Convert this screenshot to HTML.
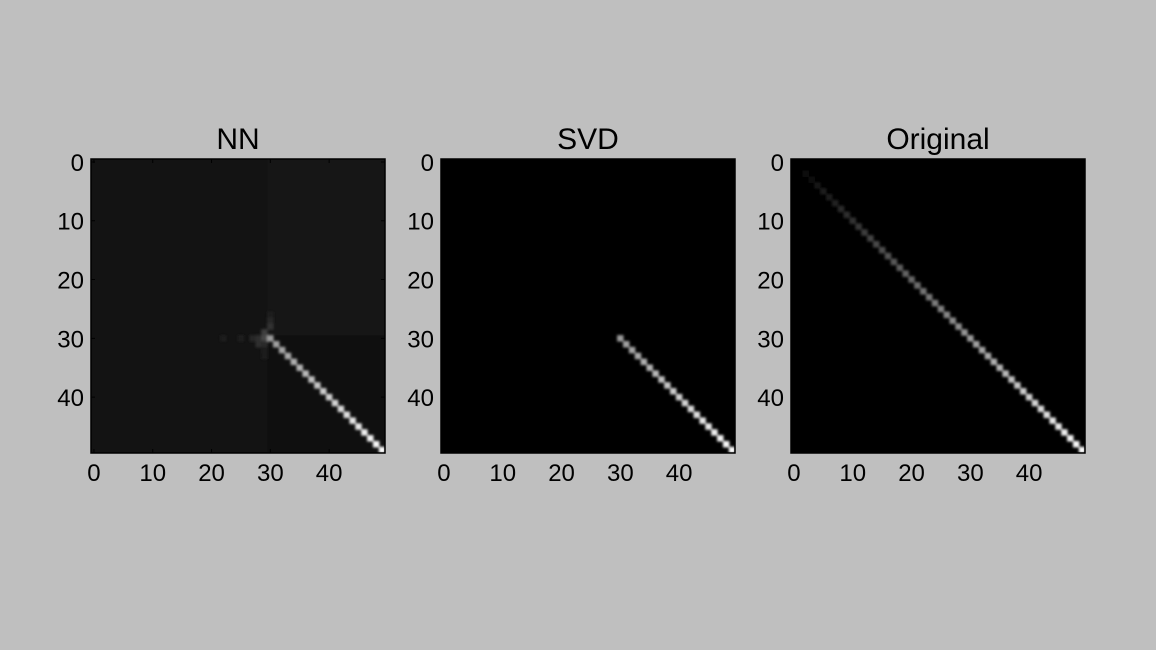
<!DOCTYPE html>
<html><head><meta charset="utf-8"><style>
html,body{margin:0;padding:0;background:#bfbfbf;}
svg{display:block;font-family:"Liberation Sans",Arial,sans-serif;}
</style></head><body>
<svg id="chart" width="1156" height="650" xmlns="http://www.w3.org/2000/svg">
<defs><filter id="soft" x="-5%" y="-5%" width="110%" height="110%"><feGaussianBlur stdDeviation="1.3"/></filter>
<clipPath id="c0"><rect x="91" y="159" width="294" height="294"/></clipPath>
<clipPath id="c1"><rect x="441" y="159" width="294" height="294"/></clipPath>
<clipPath id="c2"><rect x="791" y="159" width="294" height="294"/></clipPath>
</defs>
</svg>
<script>
// data
const N = 50;
const panelTitles = ["NN", "SVD", "Original"];
const tickValues = [0, 10, 20, 30, 40];
const tickLabels = ["0", "10", "20", "30", "40"];
// diagonal intensities (0..1) per index
const originalDiag = [0,0.02,0.04,0.06,0.08,0.10,0.12,0.14,0.16,0.18,0.20,0.22,0.24,0.27,0.29,0.31,0.33,0.35,0.37,0.39,0.41,0.43,0.45,0.47,0.49,0.51,0.53,0.55,0.57,0.59,0.61,0.63,0.65,0.67,0.69,0.71,0.73,0.76,0.78,0.80,0.82,0.84,0.86,0.88,0.90,0.92,0.94,0.96,0.98,1.0];
const svdStart = 30;
const nnStart = 30;
const nnBackground = 0.075;
const nnUpperRight = 0.085;
const nnLowerRight = 0.058;
const nnGlowRows = [26,27,28,29,30,30,30,30,30,31,31,32,33];
const nnGlowCols = [30,30,30,29,27,28,29,25,22,28,29,29,29];
const nnGlowVals = [0.12,0.15,0.2,0.25,0.15,0.18,0.28,0.12,0.1,0.18,0.16,0.12,0.1];

const svg = document.getElementById('chart');
const NS = "http://www.w3.org/2000/svg";
const panelX = [91, 441, 791];
const top0 = 159, size = 294, cell = size / N;
function sx(p, v){ return panelX[p] + (v + 0.5) * cell; }
function sy(v){ return top0 + (v + 0.5) * cell; }
function g(v){ const c = Math.round(Math.max(0,Math.min(1,v))*255); return `rgb(${c},${c},${c})`; }
function mk(tag, attrs, parent){ const e = document.createElementNS(NS, tag); for (const k in attrs) e.setAttribute(k, attrs[k]); (parent||svg).appendChild(e); return e; }
function cellRect(p, r, c, v, parent){
  const e = mk('rect', {x: panelX[p] + c*cell - 0.3, y: top0 + r*cell - 0.3, width: cell+0.6, height: cell+0.6, fill: g(v)}, parent);
  
  
}

for (let p = 0; p < 3; p++) {
  const grp = mk('g', {'clip-path': `url(#c${p})`});
  
  
  const bg = p === 0 ? nnBackground : 0;
  const bgr = mk('rect', {x: panelX[p], y: top0, width: size, height: size, fill: g(bg)}, grp);
  
  
  const marks = mk('g', {filter: 'url(#soft)'}, grp);
  if (p === 0) {
    const ur = mk('rect', {x: panelX[p] + nnStart*cell, y: top0, width: (N-nnStart)*cell, height: nnStart*cell, fill: g(nnUpperRight)}, grp);
    
    
    const lr = mk('rect', {x: panelX[p] + nnStart*cell, y: top0 + nnStart*cell, width: (N-nnStart)*cell, height: (N-nnStart)*cell, fill: g(nnLowerRight)}, grp);
    
    
    grp.appendChild(marks);
    for (let k = 0; k < nnGlowRows.length; k++) cellRect(p, nnGlowRows[k], nnGlowCols[k], nnGlowVals[k], marks);
    for (let i = nnStart; i < N; i++) cellRect(p, i, i, Math.max(originalDiag[i], 0.45), marks);
  } else if (p === 1) {
    for (let i = svdStart; i < N; i++) cellRect(p, i, i, originalDiag[i], marks);
  } else {
    for (let i = 0; i < N; i++) cellRect(p, i, i, originalDiag[i], marks);
  }
  const fr = mk('rect', {x: panelX[p], y: top0, width: size, height: size, fill: 'none', stroke: '#000', 'stroke-width': 1.5});
  
  
  for (let t = 0; t < tickValues.length; t++) {
    const x = sx(p, tickValues[t]), y = sy(tickValues[t]);
    const tk = mk('path', {d: `M${x},${top0}v4M${x},${top0+size}v-4M${panelX[p]},${y}h4M${panelX[p]+size},${y}h-4`, stroke: '#000', 'stroke-width': 1});
    
    
    const xl = mk('text', {x: x, y: 481, 'font-size': 24, 'text-anchor': 'middle', fill: '#000'});
    xl.textContent = tickLabels[t];
    
    
    const yl = mk('text', {x: panelX[p] - 7, y: y + 9, 'font-size': 24, 'text-anchor': 'end', fill: '#000'});
    yl.textContent = tickLabels[t];
    
    
  }
  const tt = mk('text', {x: panelX[p] + size/2, y: 149, 'font-size': 30, 'text-anchor': 'middle', fill: '#000'});
  tt.textContent = panelTitles[p];
  
  
}
</script>
</body></html>
